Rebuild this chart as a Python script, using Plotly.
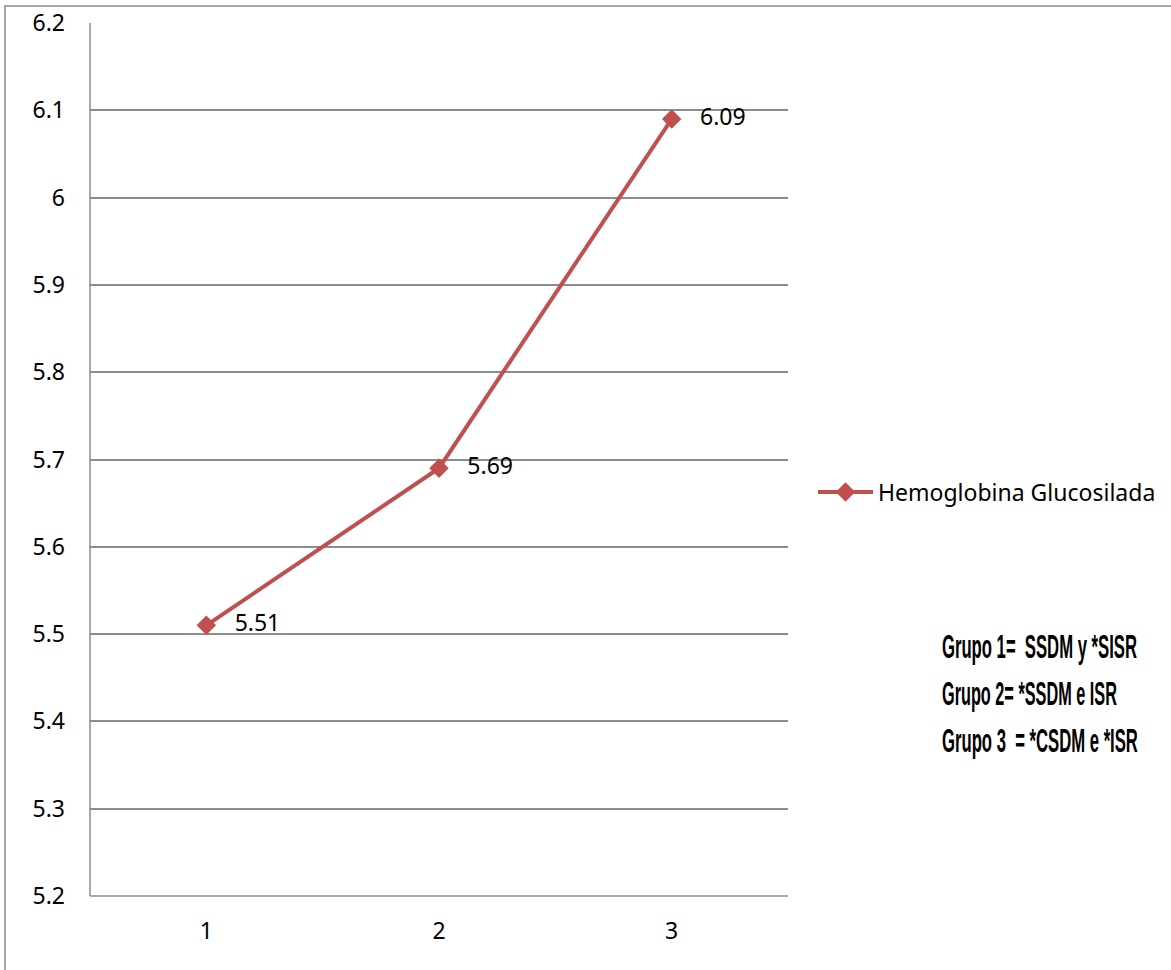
import plotly.graph_objects as go

# Series data
groups = ["1", "2", "3"]
hba1c = [5.51, 5.69, 6.09]
series_name = "Hemoglobina Glucosilada"
y_ticks = [5.2, 5.3, 5.4, 5.5, 5.6, 5.7, 5.8, 5.9, 6.0, 6.1, 6.2]
y_tick_text = ["5.2", "5.3", "5.4", "5.5", "5.6", "5.7", "5.8", "5.9", "6", "6.1", "6.2"]
group_notes = ["Grupo 1=  SSDM y *SISR", "Grupo 2= *SSDM e ISR", "Grupo 3  = *CSDM e *ISR"]
note_widths = [195, 175, 196]

W, H = 1171, 970
ML, MR, MT, MB = 90, 383, 23, 74
pw, ph = W - ML - MR, H - MT - MB

RED = "#C0504D"
GRID = "#8C8C8C"
FONT = "Noto Sans, Open Sans, sans-serif"
FS = 23

fig = go.Figure()
fig.add_trace(go.Scatter(
    x=groups, y=hba1c, name=series_name,
    mode="lines+markers+text",
    line=dict(color=RED, width=4),
    marker=dict(symbol="diamond", size=15, color=RED),
    text=[f"{v:.2f}" for v in hba1c],
    texttemplate="   %{text}",
    textposition="middle right",
    textfont=dict(family=FONT, size=FS, color="#000000"),
    cliponaxis=False,
))

fig.update_layout(
    width=W, height=H,
    margin=dict(l=ML, r=MR, t=MT, b=MB, autoexpand=False),
    paper_bgcolor="white", plot_bgcolor="white",
    font=dict(family=FONT, size=FS, color="#000000"),
    showlegend=True,
    legend=dict(
        x=(813 - ML) / pw, y=(H - MB - 492) / ph,
        xanchor="left", yanchor="middle",
        font=dict(family=FONT, size=FS, color="#000000"),
        itemwidth=55, bgcolor="rgba(0,0,0,0)",
    ),
    xaxis=dict(
        type="category", range=[-0.5, 2.5],
        showgrid=False, zeroline=False,
        showline=False, ticks="",
        ticklabelstandoff=19,
        tickfont=dict(family=FONT, size=FS),
    ),
    yaxis=dict(
        range=[5.2, 6.2], tickvals=y_ticks, ticktext=y_tick_text,
        showgrid=True, gridcolor=GRID, gridwidth=1.5,
        zeroline=False, showline=False, ticks="",
        ticklabelstandoff=24,
        tickfont=dict(family=FONT, size=FS),
    ),
)

# Plot-area left edge and baseline
fig.add_shape(type="line", xref="paper", yref="paper", x0=0, x1=0, y0=0, y1=1,
              line=dict(color=GRID, width=1.5))
fig.add_shape(type="line", xref="paper", yref="paper", x0=0, x1=1, y0=0, y1=0,
              line=dict(color=GRID, width=1.5))

# Chart frame
fig.add_shape(type="rect", xref="paper", yref="paper",
              x0=(5 - ML) / pw, x1=(W + 10 - ML) / pw,
              y0=-(H + 10 - MT - ph) / ph, y1=(H - MB - 6) / ph,
              line=dict(color="#8A8A8A", width=1.5), layer="below")

# Group notes (tall, condensed lettering)
for i, note in enumerate(group_notes):
    fig.add_annotation(
        xref="paper", yref="paper",
        x=(941 - ML) / pw, y=(H - MB - (646 + i * 47)) / ph,
        xanchor="left", yanchor="middle", align="left", showarrow=False,
        text=f"<b>{note}</b>", borderpad=0,
        font=dict(family="Liberation Sans, Arial, sans-serif", size=34, color="#000000"),
    )

# Condense the note lines horizontally, keeping their left edge in place
widths_js = "{" + ",".join(f'"{n}":{w}' for n, w in zip(group_notes, note_widths)) + "}"
post = f"""
var widths = {widths_js};
var gd = document.getElementById('{{plot_id}}');
gd.querySelectorAll('text.annotation-text').forEach(function(t) {{
  var w = widths[t.textContent];
  if (w) {{
    var bb = t.getBBox();
    var sx = w / bb.width;
    t.setAttribute('transform',
      'translate(' + bb.x + ',0) scale(' + sx + ',1) translate(' + (-bb.x) + ',0)');
  }}
}});
"""

fig.write_html("out.html", post_script=post)
